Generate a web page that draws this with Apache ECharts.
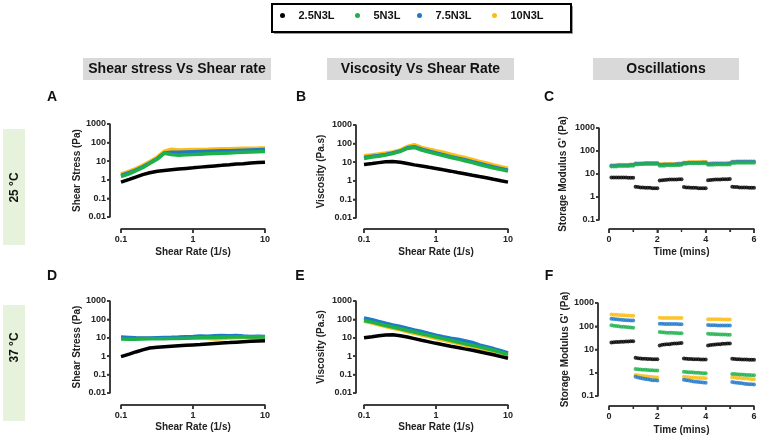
<!DOCTYPE html>
<html><head><meta charset="utf-8">
<script src="https://cdn.jsdelivr.net/npm/echarts@6.0.0/dist/echarts.min.js"></script>
<style>html,body{margin:0;padding:0;background:#fff}#c{width:760px;height:437px}</style>
</head><body><div id="c"></div><script>
// ---------- DATA ----------
const seriesNames = ['2.5N3L', '5N3L', '7.5N3L', '10N3L'];
const shearRate = [0.1,0.13,0.16,0.2,0.25,0.32,0.4,0.5,0.63,0.8,1,1.26,1.6,2,2.5,3.2,4,5,6.3,8,10];
const timeMins = [0.1,0.2,0.3,0.4,0.5,0.6,0.7,0.8,0.9,1.0,1.1,1.2,1.3,1.4,1.5,1.6,1.7,1.8,1.9,2.0,
  2.1,2.2,2.3,2.4,2.5,2.6,2.7,2.8,2.9,3.0,3.1,3.2,3.3,3.4,3.5,3.6,3.7,3.8,3.9,4.0,
  4.1,4.2,4.3,4.4,4.5,4.6,4.7,4.8,4.9,5.0,5.1,5.2,5.3,5.4,5.5,5.6,5.7,5.8,5.9,6.0];
const xTicksRheo = [0.1,1,10];
const xTicksOsc = [0,2,4,6];
const xMinorOsc = [1,3,5];
const yTicksRheo = [0.01,0.1,1,10,100,1000];
const yTicksOsc = [0.1,1,10,100,1000];

// A: Shear stress 25 °C
const stress25_N25 = [0.75,1.05,1.4,1.9,2.4,2.9,3.2,3.5,3.8,4.1,4.4,4.8,5.2,5.6,6.0,6.5,7.0,7.4,7.9,8.4,8.8];
const stress25_N5  = [1.5,2.1,3.0,4.5,7.5,13,27,23,21,22,23,24,25,26,27,28,29,30,31,32,33];
const stress25_N75 = [1.7,2.4,3.3,5,8,14,28,30,30,31,32,33,34,35,36,37,38,39,40,41,42];
const stress25_N10 = [2.1,2.9,4,6,9.5,17,35,44,40,41,42,43,44,45,46,47,48,49,50,51,52];
// B: Viscosity 25 °C
const visc25_N25 = [7.5,8.5,9.5,10.5,10.8,10,8.5,7.2,6.2,5.3,4.6,3.9,3.3,2.8,2.4,2.0,1.7,1.45,1.2,1.0,0.85];
const visc25_N5  = [16,19,21,24,29,38,55,62,45,35,28,23,18,15,12,9.5,7.5,6,4.9,4,3.3];
const visc25_N75 = [18,21,23,26,31,40,60,68,50,39,31,25,20,16.5,13.5,10.5,8.5,6.8,5.5,4.5,3.7];
const visc25_N10 = [22,25,28,31,36,46,70,88,62,50,41,34,27,22,18,14,11,9,7.2,5.8,4.8];
// D: Shear stress 37 °C
const stress37_N25 = [0.95,1.3,1.7,2.2,2.8,3.1,3.3,3.5,3.7,3.9,4.1,4.3,4.6,4.9,5.2,5.5,5.8,6.1,6.4,6.7,7.0];
const stress37_N5  = [8.5,8.3,8.4,8.6,8.8,8.9,9.0,9.2,9.3,9.6,9.8,10.2,10.5,10.4,10.8,11.2,10.9,11.3,11,11.4,11.2];
const stress37_N75 = [11,10.5,10,9.8,9.9,10.2,10.4,10.6,10.9,11.5,11.8,12.5,12.2,13,13.5,12.8,13.3,12.4,11.8,12.2,11.6];
const stress37_N10 = [9.5,9.3,9.4,9.5,9.6,9.7,9.8,9.9,10,10.1,10.2,9.9,9.2,8.7,9,9.6,10,10.3,10.5,10.4,10.2];
// E: Viscosity 37 °C
const visc37_N25 = [10,11.5,13,14,14.5,13,11,9,7.3,6,5,4.2,3.5,3,2.5,2.1,1.75,1.45,1.2,0.95,0.78];
const visc37_N5  = [88,71,58,47,39,31,25,20.5,16.5,13.5,11,9,7.3,5.9,4.8,3.9,3.2,2.6,2.1,1.6,1.25];
const visc37_N75 = [120,96,77,62,50,41,33,27,22,17.5,14,11.5,9.5,8.3,6.9,5.6,4.1,3.3,2.6,2,1.5];
const visc37_N10 = [78,63,51,41,33,27,21.5,17.5,14,11.3,9.2,7.5,6.1,5,4.1,3.3,2.7,2.2,1.75,1.4,1.1];
// C: Storage modulus 25 °C
const gp25_N25 = [7.1,7.1,7.0,7.0,7.0,7.0,7.0,6.9,6.9,6.9, 2.8,2.7,2.6,2.6,2.5,2.5,2.5,2.4,2.4,2.4,
  5.2,5.4,5.5,5.6,5.7,5.7,5.8,5.8,5.9,5.9, 2.7,2.6,2.6,2.5,2.5,2.5,2.4,2.4,2.4,2.4,
  5.3,5.5,5.6,5.7,5.8,5.8,5.9,5.9,5.9,6.0, 2.8,2.7,2.7,2.6,2.6,2.6,2.6,2.5,2.5,2.5];
const gp25_N5 = [21,21,21,22,22,22,22,22,23,23, 26,26,27,27,27,27,27,27,27,27,
  23,23,23,24,24,24,24,24,24,25, 28,28,29,29,29,29,29,29,29,29,
  25,25,25,26,26,26,26,26,26,26, 30,30,31,31,31,31,31,31,31,31];
const gp25_N75 = [23,23,23,24,24,24,24,24,25,25, 28,28,28,28,29,29,29,29,29,29,
  25,25,26,26,26,26,26,27,27,27, 30,30,31,31,31,31,31,31,32,32,
  27,27,28,28,28,28,28,28,28,29, 33,33,34,34,34,34,34,34,34,34];
const gp25_N10 = [24,24,25,25,25,25,25,25,26,26, 29,29,29,30,30,30,30,30,30,30,
  27,27,28,28,28,28,28,28,29,29, 32,32,33,33,33,33,33,34,34,34,
  29,29,30,30,30,30,30,30,31,31, 35,35,36,36,36,36,36,36,36,36];
// F: Storage modulus 37 °C
const gp37_N25 = [20,20.5,21,21,21.5,21.5,22,22,22.5,22.5, 4.4,4.2,4.1,4.0,4.0,3.9,3.9,3.8,3.8,3.8,
  15,16,16.5,17,17,17.5,18,18,18.5,19, 4.1,4.0,3.9,3.9,3.8,3.8,3.8,3.7,3.7,3.7,
  15,15.5,16,16.5,17,17,17.5,17.5,18,18, 4.0,3.9,3.8,3.8,3.7,3.7,3.7,3.6,3.6,3.6];
const gp37_N5 = [110,106,102,99,96,94,92,90,88,87, 1.45,1.42,1.39,1.36,1.34,1.31,1.29,1.27,1.26,1.25,
  56,55,54,53,52,52,51,51,50,50, 1.1,1.08,1.06,1.04,1.02,1.0,0.99,0.98,0.96,0.95,
  47,46.5,46,45.5,45,44.5,44,44,43.5,43, 0.89,0.88,0.86,0.85,0.84,0.82,0.81,0.8,0.79,0.78];
const gp37_N75 = [210,205,200,195,190,186,183,180,177,175, 0.67,0.63,0.6,0.57,0.54,0.52,0.5,0.48,0.47,0.46,
  128,127,126,126,125,125,124,124,123,123, 0.5,0.48,0.46,0.44,0.42,0.41,0.4,0.39,0.38,0.37,
  112,111,110,110,109,109,108,108,107,107, 0.4,0.38,0.37,0.36,0.35,0.34,0.33,0.32,0.32,0.31];
const gp37_N10 = [320,315,310,305,300,296,292,288,284,280, 0.8,0.78,0.75,0.73,0.71,0.69,0.67,0.65,0.64,0.62,
  230,229,228,228,227,227,226,226,225,225, 0.67,0.66,0.64,0.63,0.62,0.61,0.6,0.6,0.59,0.58,
  200,200,199,199,198,198,197,197,196,195, 0.64,0.62,0.6,0.59,0.58,0.57,0.56,0.55,0.53,0.52];

// ---------- STYLE / LAYOUT ----------
const FF = '"Liberation Sans", Arial, Helvetica, sans-serif';
const COLORS = {'2.5N3L':'#000000','5N3L':'#1db14b','7.5N3L':'#1f78c8','10N3L':'#fbbd12'};
const drawOrder = ['10N3L','7.5N3L','5N3L','2.5N3L'];
const AX = '#333';

const panels = [
  {grid:{left:121,top:124,width:144,height:93}, kind:'rheo', yName:'Shear Stress (Pa)', xName:'Shear Rate (1/s)', yOff:11, xOff:12, yGap:27, xGap:18,
   data:{'2.5N3L':stress25_N25,'5N3L':stress25_N5,'7.5N3L':stress25_N75,'10N3L':stress25_N10}},
  {grid:{left:364,top:125,width:144,height:93}, kind:'rheo', yName:'Viscosity (Pa.s)', xName:'Shear Rate (1/s)', yOff:8, xOff:11, yGap:30, xGap:18,
   data:{'2.5N3L':visc25_N25,'5N3L':visc25_N5,'7.5N3L':visc25_N75,'10N3L':visc25_N10}},
  {grid:{left:609,top:128,width:145,height:92}, kind:'osc', yName:"Storage Modulus G' (Pa)", xName:'Time (mins)', yOff:10, xOff:9, yGap:31, xGap:18,
   data:{'2.5N3L':gp25_N25,'5N3L':gp25_N5,'7.5N3L':gp25_N75,'10N3L':gp25_N10}},
  {grid:{left:121,top:301,width:144,height:92}, kind:'rheo', yName:'Shear Stress (Pa)', xName:'Shear Rate (1/s)', yOff:11, xOff:12, yGap:28, xGap:17,
   data:{'2.5N3L':stress37_N25,'5N3L':stress37_N5,'7.5N3L':stress37_N75,'10N3L':stress37_N10}},
  {grid:{left:364,top:301,width:144,height:92}, kind:'rheo', yName:'Viscosity (Pa.s)', xName:'Shear Rate (1/s)', yOff:8, xOff:12, yGap:30, xGap:17,
   data:{'2.5N3L':visc37_N25,'5N3L':visc37_N5,'7.5N3L':visc37_N75,'10N3L':visc37_N10}},
  {grid:{left:609,top:303,width:145,height:93}, kind:'osc', yName:"Storage Modulus G' (Pa)", xName:'Time (mins)', yOff:11, xOff:10, yGap:27, xGap:19,
   data:{'2.5N3L':gp37_N25,'5N3L':gp37_N5,'7.5N3L':gp37_N75,'10N3L':gp37_N10}}
];

const fmt = v => String(parseFloat(Number(v).toPrecision(4)));
const labelStyle = {fontFamily:FF, fontWeight:'bold', fontSize:9, color:'#222'};
const nameStyle = {fontFamily:FF, fontWeight:'bold', fontSize:10, color:'#222'};
const lineSt = () => ({color:AX, width:1.5});

const grids = [], xAxes = [], yAxes = [], series = [];
panels.forEach((p, i) => {
  const rheo = p.kind === 'rheo';
  const xt = rheo ? xTicksRheo : xTicksOsc;
  const yt = rheo ? yTicksRheo : yTicksOsc;
  grids.push(Object.assign({}, p.grid));
  const xAxis = {
    type: rheo ? 'log' : 'value', gridIndex:i, min:xt[0], max:xt[xt.length-1], offset:p.xOff, position:'bottom',
    name:p.xName, nameLocation:'middle', nameGap:p.xGap, nameTextStyle:nameStyle,
    axisLine:{show:true, onZero:false, lineStyle:lineSt()},
    axisTick:{show:true, length:4, lineStyle:lineSt()},
    axisLabel:Object.assign({margin:6, formatter:fmt}, labelStyle), splitLine:{show:false}
  };
  if (rheo) xAxis.logBase = 10; else { xAxis.interval = 2; xAxis.minorTick = {show:true, splitNumber:2, length:3, lineStyle:{color:AX, width:1.2}}; }
  xAxes.push(xAxis);
  yAxes.push({
    type:'log', logBase:10, gridIndex:i, min:yt[0], max:yt[yt.length-1], offset:p.yOff, position:'left',
    name:p.yName, nameLocation:'middle', nameGap:p.yGap, nameRotate:90, nameTextStyle:nameStyle,
    axisLine:{show:true, onZero:false, lineStyle:lineSt()},
    axisTick:{show:true, length:3, lineStyle:lineSt()},
    axisLabel:Object.assign({margin:4, formatter:fmt}, labelStyle), splitLine:{show:false}
  });
  const xs = rheo ? shearRate : timeMins;
  drawOrder.forEach((nm, k) => {
    const pts = xs.map((x, j) => [x, p.data[nm][j]]);
    series.push(rheo
      ? {type:'line', name:nm, xAxisIndex:i, yAxisIndex:i, data:pts, symbol:'none', showSymbol:false,
         lineStyle:{width:3.5, color:COLORS[nm]}, itemStyle:{color:COLORS[nm]}, z:2+k, silent:true}
      : {type:'scatter', name:nm, xAxisIndex:i, yAxisIndex:i, data:pts, symbol:'circle', symbolSize:4,
         itemStyle:{color:COLORS[nm]}, z:2+k, silent:true});
  });
});

const legendCenters = [291, 366, 428, 503];
const legends = seriesNames.map((nm, i) => ({
  data:[nm], left:legendCenters[i]-11, top:10, padding:0, icon:'circle', itemWidth:22, itemHeight:5, itemGap:0,
  selectedMode:false, textStyle:{fontFamily:FF, fontWeight:'bold', fontSize:11, color:'#111'}
}));

function txt(x, y, text, size, rot) {
  return {type:'text', x, y, rotation:rot || 0, z:10,
    style:{text, x:0, y:0, align:'center', verticalAlign:'middle', fontFamily:FF, fontWeight:'bold', fontSize:size, fill:'#111'}};
}
const graphics = [
  {type:'rect', shape:{x:274,y:6,width:299,height:28}, style:{fill:'#9a9a9a'}, z:0},
  {type:'rect', shape:{x:272,y:4,width:299,height:28}, style:{fill:'#fff', stroke:'#000', lineWidth:2}, z:1},
  {type:'rect', shape:{x:83,y:58,width:188,height:22}, style:{fill:'#d9d9d9'}, z:0},
  {type:'rect', shape:{x:327,y:58,width:187,height:22}, style:{fill:'#d9d9d9'}, z:0},
  {type:'rect', shape:{x:593,y:58,width:146,height:22}, style:{fill:'#d9d9d9'}, z:0},
  txt(177, 69, 'Shear stress Vs Shear rate', 14),
  txt(420.5, 69, 'Viscosity Vs Shear Rate', 14),
  txt(666, 69, 'Oscillations', 14),
  {type:'rect', shape:{x:3,y:129,width:22,height:116}, style:{fill:'#e7f2dc'}, z:0},
  {type:'rect', shape:{x:3,y:305,width:22,height:116}, style:{fill:'#e7f2dc'}, z:0},
  txt(15, 187.5, '25 °C', 12, Math.PI/2),
  txt(15, 347.5, '37 °C', 12, Math.PI/2),
  txt(52, 97, 'A', 14), txt(301, 97, 'B', 14), txt(549, 97, 'C', 14),
  txt(52, 276, 'D', 14), txt(300, 276, 'E', 14), txt(549, 276, 'F', 14)
];

const chart = echarts.init(document.getElementById('c'), null, {renderer:'canvas'});
chart.setOption({
  animation:false,
  backgroundColor:'#fff',
  textStyle:{fontFamily:FF},
  legend:legends,
  grid:grids, xAxis:xAxes, yAxis:yAxes, series:series,
  graphic:graphics
});

// Trace the detached (Prism-style) axis lines and ticks from the library's own scales
function seg(x1, y1, x2, y2, w) {
  return {type:'line', silent:true, z:50, shape:{x1, y1, x2, y2}, style:{stroke:AX, lineWidth:w || 1.5, lineCap:'butt'}};
}
const axisMarks = [];
panels.forEach((p, i) => {
  const rheo = p.kind === 'rheo';
  const xt = rheo ? xTicksRheo : xTicksOsc;
  const yt = rheo ? yTicksRheo : yTicksOsc;
  const px = (x, y) => chart.convertToPixel({gridIndex:i}, [x, y]);
  const bl = px(xt[0], yt[0]);
  const br = px(xt[xt.length-1], yt[0]);
  const tl = px(xt[0], yt[yt.length-1]);
  const xLineY = bl[1] + p.xOff;
  const yLineX = bl[0] - p.yOff;
  axisMarks.push(seg(bl[0], xLineY, br[0], xLineY));
  axisMarks.push(seg(yLineX, bl[1], yLineX, tl[1]));
  xt.forEach(v => { const q = px(v, yt[0]); axisMarks.push(seg(q[0], xLineY, q[0], xLineY + 4)); });
  if (!rheo) xMinorOsc.forEach(v => { const q = px(v, yt[0]); axisMarks.push(seg(q[0], xLineY, q[0], xLineY + 3, 1.2)); });
  yt.forEach(v => { const q = px(xt[0], v); axisMarks.push(seg(yLineX - 3, q[1], yLineX, q[1])); });
});
chart.setOption({graphic: graphics.concat(axisMarks)});
</script></body></html>
